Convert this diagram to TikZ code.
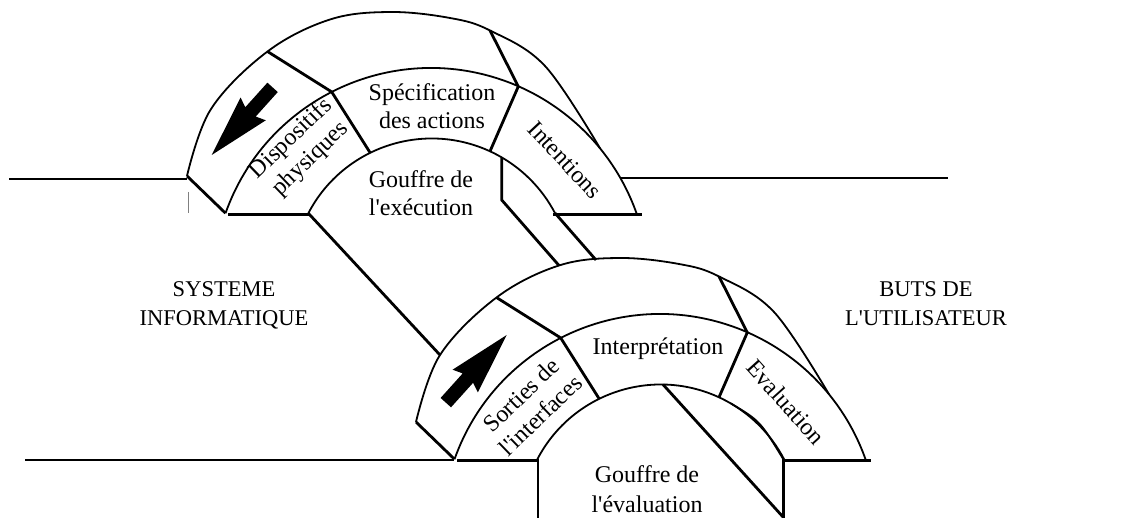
\documentclass[tikz,border=0pt]{standalone}
\usepackage{fontspec}
\setmainfont{Liberation Serif}
\newcommand{\myapos}{\textquotesingle}
\newcommand{\bridgearch}{%
  % back edge of the deck
  \draw[arcline] plot[smooth, tension=0.6] coordinates {(187,176) (211,109) (267.5,51.5) (330,19.5) (390,12) (450,18) (490,30.5) (545,66) (600,148.3)};
  % front face outer edge
  \draw[arcline] (431,286) ++(-160.5:218) arc[start angle=-160.5, end angle=-19.5, radius=218];
  % front face inner edge
  \draw[arcline] (431.7,277.7) ++(-152.4:139.2) arc[start angle=-152.4, end angle=-27.6, radius=139.2];
  % deck end cut
  \draw[barline] (187,176) -- (225.5,213.2);
  % dividers
  \draw[barline] (267.5,51.5) -- (331.7,91.9) -- (370,152.5);
  \draw[barline] (490,30.5) -- (518.3,86.5) -- (490,151.3);
  % base segments
  \draw[barline] (228,214.5) -- (310,214.5);
  \draw[barline] (553,214.5) -- (642,214.5);
}
\begin{document}
\begin{tikzpicture}[x=1pt,y=-1pt,
  arcline/.style={line width=1.8pt},
  barline/.style={line width=2.8pt},
  lbl/.style={font=\fontsize{24}{28}\selectfont, align=center, inner sep=0pt},
  caps/.style={font=\fontsize{22.5}{29}\selectfont, align=center, inner sep=0pt},
  arrowshape/.style={fill=black}
]
\useasboundingbox (0,0) rectangle (1137,518);

% the two bridges
\bridgearch
\begin{scope}[shift={(229,246)}]
  \bridgearch
\end{scope}

% ground lines
\draw[arcline] (9,179) -- (187,179);
\draw[line width=0.5pt, gray] (188,192) -- (188,213);
\draw[arcline] (620.5,178) -- (948,178);
\draw[arcline] (25,460) -- (454,460);

% walls of the gulf of evaluation
\draw[barline] (538,459) -- (538,520);
\draw[barline] (783.5,459) -- (783.5,520);

% pillars between the bridges
\draw[barline] (308.3,213.2) -- (440,355);
\draw[barline] (501.7,157.4) -- (501.7,200) -- (559,265.5);
\draw[barline] (555.1,213.2) -- (596,260);
\draw[barline] (663,384.5) -- (783.5,517.5);
\draw[arcline] (731,403.5) .. controls (760,421) .. (783.5,459.5);

% arrows
\fill[arrowshape, shift={(211.7,155)}, rotate=228] (0,0) -- (-62,17) -- (-58,7) -- (-91,7) -- (-91,-7) -- (-58,-7) -- (-62,-17) -- cycle;
\fill[arrowshape, shift={(506.7,335)}, rotate=48] (0,0) -- (-62,17) -- (-58,7) -- (-91,7) -- (-91,-7) -- (-58,-7) -- (-62,-17) -- cycle;

% labels
\node[lbl, rotate=44] (disp) at (301,149) {Dispositifs\\physiques};
\node[lbl] (spec) at (432,106) {Spécification\\des actions};
\node[lbl, rotate=-47] (intent) at (565,160) {Intentions};
\node[lbl] (gexec) at (421,193.5) {Gouffre de\\l\myapos exécution};
\node[lbl, rotate=44] (sorties) at (531,405) {Sorties de\\l\myapos interfaces};
\node[lbl] (interp) at (658,349) {Interprétation};
\node[lbl, rotate=-48] (eval) at (786,402) {Evaluation};
\node[lbl, font=\fontsize{24}{30}\selectfont] (geval) at (647,489) {Gouffre de\\l\myapos évaluation};
\node[caps] (sys) at (224,305) {SYSTEME\\INFORMATIQUE};
\node[caps] (buts) at (926,304) {BUTS DE\\L\myapos UTILISATEUR};
\end{tikzpicture}
\end{document}
